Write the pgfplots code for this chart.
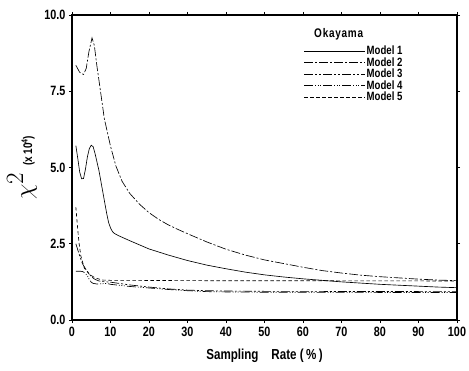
\documentclass[border=0pt]{standalone}
\usepackage{pgfplots}
\pgfplotsset{compat=1.18}
\usepackage{fontspec}
\setmainfont{Liberation Sans}[FakeStretch=0.8]
\begin{document}
\begin{tikzpicture}
\useasboundingbox (-72pt,-50pt) rectangle (397pt,320pt);
\begin{axis}[
  at={(0,0)}, anchor=south west,
  scale only axis,
  width=385pt, height=305pt,
  xmin=0, xmax=100, ymin=0, ymax=10,
  xtick={0,10,...,100},
  ytick={0,2.5,5,7.5,10},
  yticklabel style={/pgf/number format/.cd,fixed,fixed zerofill,precision=1},
  /pgf/number format/assume math mode=true,
  tick label style={font=\fontsize{13.5}{15}\selectfont\bfseries, black},
  xticklabel style={yshift=-1pt},
  tick align=outside,
  major tick length=3pt,
  tick style={line width=0.8pt, black},
  axis line style={line width=1.1pt},
  xlabel={\fontsize{14.5}{16}\selectfont\bfseries Sampling\ \ \ \ Rate\ (\,\%\,)},
  ylabel={{\fontsize{36}{38}\selectfont$\chi^{2}$}\ \ \ {\fontsize{12.5}{14}\selectfont\bfseries(x\,10\textsuperscript{4})}},
  ylabel style={at={(axis description cs:-0.082,0.5)}, anchor=south},
  xlabel style={at={(axis description cs:0.5,-0.082)}, anchor=north},
  legend style={draw=none, fill=none, at={(axis cs:60.2,9.0)}, anchor=north west,
    font=\fontsize{12}{12}\selectfont\bfseries, row sep=1.0pt, inner sep=0pt,
    nodes={inner sep=1pt, text height=8pt, text depth=0.5pt}},
  legend cell align=left,
  legend image code/.code={\draw[#1, line width=0.6pt] (0cm,0cm) -- (2.15cm,0cm);},
  every axis plot/.append style={line width=0.65pt, black},
]
\addplot[solid] coordinates {(1,5.72)(1.5,5.3)(2,4.85)(2.5,4.63)(3,4.64)(3.5,4.95)(4,5.35)(4.5,5.62)(5,5.73)(5.5,5.68)(6,5.45)(7,4.9)(8,4.2)(9,3.5)(9.5,3.2)(10,3.02)(10.5,2.9)(11,2.84)(12,2.77)(15,2.6)(20,2.33)(25,2.13)(30,1.95)(35,1.8)(40,1.68)(45,1.57)(50,1.48)(55,1.41)(60,1.35)(65,1.3)(70,1.25)(75,1.21)(80,1.17)(85,1.14)(90,1.11)(95,1.08)(100,1.06)};
\addlegendentry{Model 1}
\addplot[dash pattern=on 9pt off 2pt on 2pt off 2pt] coordinates {(1,8.35)(2,8.12)(3,8.05)(3.7,8.25)(4.4,8.8)(5.2,9.25)(5.8,9.0)(6.5,8.3)(7.1,7.77)(8.4,6.6)(10,5.7)(11.4,5.05)(13,4.55)(15,4.15)(17.5,3.8)(20,3.52)(22.5,3.3)(25,3.12)(27.5,2.97)(30,2.83)(35,2.56)(40,2.32)(45,2.13)(50,1.97)(55,1.85)(60,1.73)(65,1.62)(70,1.54)(75,1.47)(80,1.42)(85,1.38)(90,1.34)(95,1.31)(100,1.29)};
\addlegendentry{Model 2}
\addplot[dash pattern=on 9pt off 2pt on 2pt off 2pt on 2pt off 2pt] coordinates {(1,2.5)(1.5,2.3)(2,2.1)(2.7,1.85)(3.5,1.68)(4.1,1.58)(5,1.42)(6,1.33)(7,1.28)(8,1.26)(10,1.24)(15,1.15)(20,1.08)(25,1.02)(30,0.98)(35,0.96)(40,0.95)(50,0.94)(100,0.93)};
\addlegendentry{Model 3}
\addplot[dash pattern=on 9pt off 2pt on 1pt off 1.5pt on 1pt off 1.5pt on 1pt off 2pt] coordinates {(1,1.6)(2,1.6)(2.7,1.59)(3.3,1.55)(4,1.45)(4.5,1.33)(5,1.24)(5.5,1.2)(6.5,1.18)(8,1.19)(9,1.2)(10,1.17)(15,1.1)(20,1.05)(25,1.0)(30,0.96)(35,0.93)(40,0.92)(50,0.91)(100,0.9)};
\addlegendentry{Model 4}
\addplot[dash pattern=on 3.5pt off 2.5pt] coordinates {(1,3.7)(1.4,3.1)(1.8,2.55)(2.3,2.1)(3.2,1.7)(4.5,1.5)(6,1.38)(7.9,1.31)(10,1.3)(15,1.3)(30,1.29)(100,1.28)};
\addlegendentry{Model 5}
\node[anchor=west, font=\fontsize{12.5}{13}\selectfont\bfseries\addfontfeatures{LetterSpace=6}] at (axis cs:62,9.38) {Okayama};
\end{axis}
\end{tikzpicture}
\end{document}
